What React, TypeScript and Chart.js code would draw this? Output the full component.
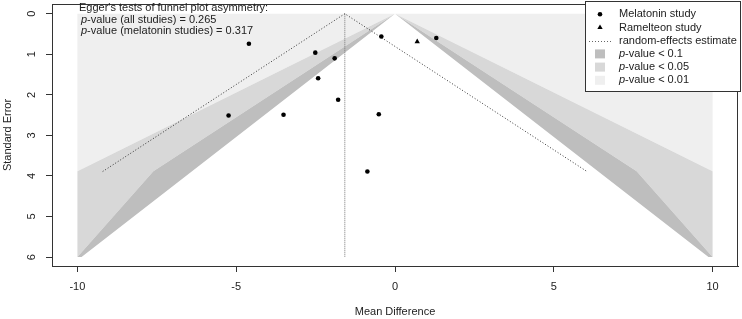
import React, { useEffect, useRef } from 'react';
import { Chart, registerables } from 'chart.js';

Chart.register(...registerables);

// ---- data ----
const melatoninMD = [-4.6, -5.24, -0.43, 1.3, -2.51, -1.9, -2.42, -1.79, -3.51, -0.51, -0.87];
const melatoninSE = [0.74, 2.51, 0.56, 0.6, 0.96, 1.1, 1.59, 2.12, 2.49, 2.48, 3.89];
const ramelteonMD = [0.7];
const ramelteonSE = [0.69];
const pooledEstimate = -1.58;
const zLevels = [1.645, 1.96, 2.576]; // p < 0.1, p < 0.05, p < 0.01
const xLimit = 10;
const seLimit = 6;
const xTicks = [-10, -5, 0, 5, 10];
const yTicks = [0, 1, 2, 3, 4, 5, 6];
const legendLabels = ['Melatonin study', 'Ramelteon study', 'random-effects estimate'];
const contourLabels = ['-value < 0.1', '-value < 0.05', '-value < 0.01'];
const eggerTitle = "Egger's tests of funnel plot asymmetry:";
const eggerLabels = ['-value (all studies) = ', '-value (melatonin studies) = '];
const eggerValues = ['0.265', '0.317'];

const FONT = '"Liberation Sans", Arial, Helvetica, sans-serif';
const C_DARK = '#bebebe';
const C_MED = '#d8d8d8';
const C_LIGHT = '#efefef';
const INK = '#222';
const LINE = '#333';

function buildContours() {
  const [z1, z2, z3] = zLevels;
  const seHit = xLimit / z3;
  const light = [
    { x: -xLimit, y: 0 }, { x: xLimit, y: 0 }, { x: xLimit, y: seHit }, { x: 0, y: 0 }, { x: -xLimit, y: seHit },
  ];
  const med = [
    { x: 0, y: 0 }, { x: -xLimit, y: seHit }, { x: -xLimit, y: seLimit }, { x: -z2 * seHit, y: seHit }, { x: 0, y: 0 },
    { x: z2 * seHit, y: seHit }, { x: xLimit, y: seLimit }, { x: xLimit, y: seHit }, { x: 0, y: 0 },
  ];
  const dark = [
    { x: 0, y: 0 }, { x: -z2 * seHit, y: seHit }, { x: -xLimit, y: seLimit }, { x: -z1 * seLimit, y: seLimit }, { x: 0, y: 0 },
    { x: z1 * seLimit, y: seLimit }, { x: xLimit, y: seLimit }, { x: z2 * seHit, y: seHit }, { x: 0, y: 0 },
  ];
  return { light, med, dark };
}

const overlayPlugin = {
  id: 'overlay',
  afterDraw(chart: any) {
    const { ctx, chartArea: a } = chart;
    ctx.save();
    // frame
    ctx.strokeStyle = LINE;
    ctx.lineWidth = 1;
    ctx.strokeRect(Math.round(a.left) + 0.5, Math.round(a.top) + 0.5, Math.round(a.right - a.left) - 1, Math.round(a.bottom - a.top));

    // Egger text
    ctx.fillStyle = INK;
    ctx.textBaseline = 'alphabetic';
    ctx.textAlign = 'left';
    ctx.font = `11px ${FONT}`;
    ctx.fillText(eggerTitle, 79, 11);
    eggerLabels.forEach((lab, i) => {
      const y = 22.5 + i * 11.5;
      ctx.font = `italic 11px ${FONT}`;
      ctx.fillText('p', 81, y);
      const w = ctx.measureText('p').width;
      ctx.font = `11px ${FONT}`;
      ctx.fillText(lab + eggerValues[i], 81 + w, y);
    });

    // legend box
    const lx = 585.5, ly = 1.5, lw = 155, lh = 90;
    ctx.fillStyle = '#fff';
    ctx.fillRect(lx, ly, lw, lh);
    ctx.strokeStyle = LINE;
    ctx.strokeRect(lx, ly, lw, lh);
    const rows = [14.3, 27.5, 40.7, 53.9, 67.1, 80.3];
    const sx = 600, tx = 619;
    // dot
    ctx.fillStyle = '#000';
    ctx.beginPath();
    ctx.arc(sx, rows[0], 2.3, 0, Math.PI * 2);
    ctx.fill();
    // triangle
    const r = 3.1;
    ctx.beginPath();
    ctx.moveTo(sx, rows[1] - r);
    ctx.lineTo(sx + r * Math.sin((2 * Math.PI) / 3), rows[1] + r / 2);
    ctx.lineTo(sx - r * Math.sin((2 * Math.PI) / 3), rows[1] + r / 2);
    ctx.closePath();
    ctx.fill();
    // dotted line
    ctx.strokeStyle = '#666';
    ctx.setLineDash([1, 2]);
    ctx.beginPath();
    ctx.moveTo(589, Math.round(rows[2]) + 0.5);
    ctx.lineTo(611, Math.round(rows[2]) + 0.5);
    ctx.stroke();
    ctx.setLineDash([]);
    // squares
    [C_DARK, C_MED, C_LIGHT].forEach((c, i) => {
      ctx.fillStyle = c;
      ctx.fillRect(595, rows[3 + i] - 4.5, 10, 9);
    });
    // texts
    ctx.fillStyle = INK;
    ctx.textBaseline = 'middle';
    ctx.font = `11px ${FONT}`;
    legendLabels.forEach((t, i) => ctx.fillText(t, tx, rows[i]));
    contourLabels.forEach((t, i) => {
      ctx.font = `italic 11px ${FONT}`;
      ctx.fillText('p', tx, rows[3 + i]);
      const w = ctx.measureText('p').width;
      ctx.font = `11px ${FONT}`;
      ctx.fillText(t, tx + w, rows[3 + i]);
    });
    ctx.restore();
  },
};

export default function App() {
  const ref = useRef<HTMLCanvasElement | null>(null);

  useEffect(() => {
    if (!ref.current) return;
    const { light, med, dark } = buildContours();
    const maxSE = Math.max(...melatoninSE, ...ramelteonSE);
    const z = zLevels[1];
    const polyStyle = (data: any[], color: string, order: number) => ({
      data,
      showLine: true,
      fill: 'shape',
      backgroundColor: color,
      borderColor: 'rgba(0,0,0,0)',
      borderWidth: 1,
      pointRadius: 0,
      order,
    });
    const chart = new Chart(ref.current, {
      type: 'scatter',
      data: {
        datasets: [
          {
            data: melatoninMD.map((x, i) => ({ x, y: melatoninSE[i] })),
            pointStyle: 'circle',
            pointRadius: 2.3,
            pointBackgroundColor: '#000',
            pointBorderWidth: 0,
            order: 0,
          },
          {
            data: ramelteonMD.map((x, i) => ({ x, y: ramelteonSE[i] })),
            pointStyle: 'triangle',
            pointRadius: 3.1,
            pointBackgroundColor: '#000',
            pointBorderWidth: 0,
            order: 0,
          },
          {
            data: [
              { x: pooledEstimate - z * maxSE, y: maxSE },
              { x: pooledEstimate, y: 0 },
              { x: pooledEstimate + z * maxSE, y: maxSE },
            ],
            showLine: true,
            borderColor: '#333',
            borderWidth: 1,
            borderDash: [1, 2],
            pointRadius: 0,
            fill: false,
            order: 1,
          },
          {
            data: [
              { x: pooledEstimate, y: 0 },
              { x: pooledEstimate, y: seLimit },
            ],
            showLine: true,
            borderColor: '#777',
            borderWidth: 1,
            borderDash: [1, 1],
            pointRadius: 0,
            fill: false,
            order: 1,
          },
          polyStyle(dark, C_DARK, 2),
          polyStyle(med, C_MED, 3),
          polyStyle(light, C_LIGHT, 4),
        ] as any,
      },
      options: {
        animation: false,
        responsive: false,
        devicePixelRatio: 1,
        events: [],
        layout: { padding: { top: 2, right: 1, left: 0, bottom: 0 } },
        plugins: { legend: { display: false }, tooltip: { enabled: false } },
        scales: {
          x: {
            type: 'linear',
            min: -10.8,
            max: 10.8,
            afterBuildTicks: (s: any) => {
              s.ticks = xTicks.map((v) => ({ value: v }));
            },
            afterFit: (s: any) => {
              s.height = 53;
              s.paddingLeft = 0;
              s.paddingRight = 0;
            },
            grid: { display: true, drawOnChartArea: false, drawTicks: true, tickLength: 6, color: LINE, lineWidth: 1 },
            border: { display: true, color: LINE, width: 1 },
            ticks: { padding: 8, color: INK, font: { family: FONT, size: 11 }, maxRotation: 0, autoSkip: false },
            title: { display: true, text: 'Mean Difference', color: INK, font: { family: FONT, size: 11 }, padding: { top: 0, bottom: 0 } },
          },
          y: {
            type: 'linear',
            reverse: true,
            min: -0.24,
            max: 6.22,
            afterBuildTicks: (s: any) => {
              s.ticks = yTicks.map((v) => ({ value: v }));
            },
            afterFit: (s: any) => {
              s.width = 52;
              s.paddingTop = 0;
              s.paddingBottom = 0;
            },
            grid: { display: true, drawOnChartArea: false, drawTicks: true, tickLength: 6, color: LINE, lineWidth: 1 },
            border: { display: true, color: LINE, width: 1 },
            ticks: {
              padding: 11,
              color: INK,
              font: { family: FONT, size: 11 },
              minRotation: 90,
              maxRotation: 90,
              crossAlign: 'center',
              autoSkip: false,
            },
            title: { display: true, text: 'Standard Error', color: INK, font: { family: FONT, size: 11 }, padding: { top: 1, bottom: 0 } },
          },
        },
      } as any,
      plugins: [overlayPlugin],
    });
    return () => chart.destroy();
  }, []);

  return (
    <div style={{ position: 'absolute', left: 0, top: 0, width: 742, height: 319, background: '#fff' }}>
      <canvas ref={ref} width={742} height={319} style={{ display: 'block' }} />
    </div>
  );
}
